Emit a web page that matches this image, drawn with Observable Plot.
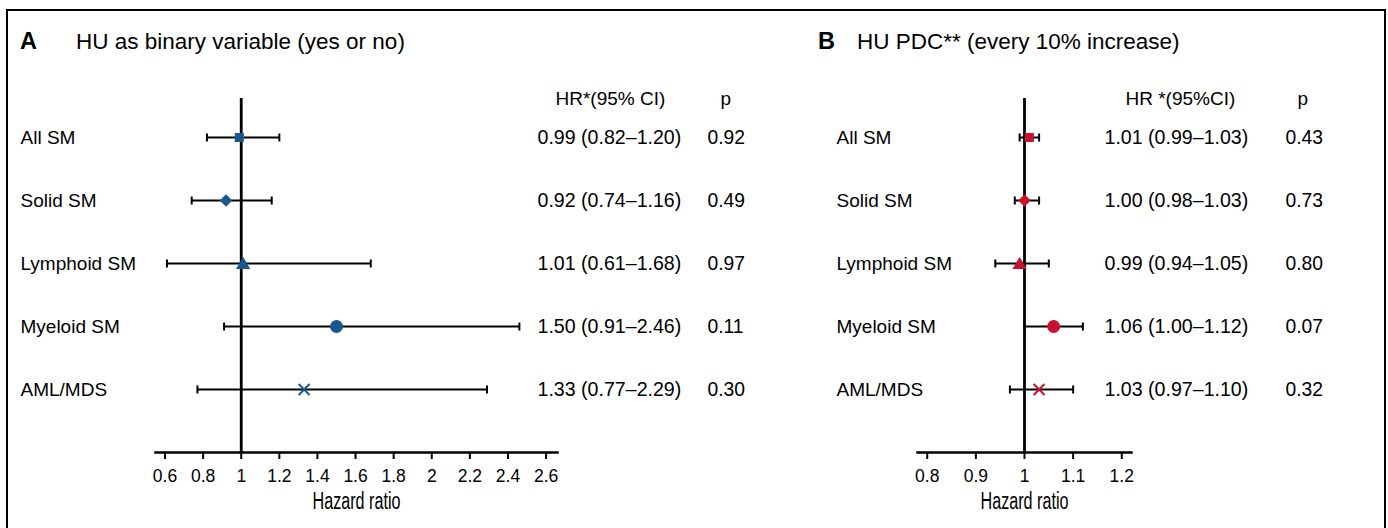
<!DOCTYPE html>
<html><head><meta charset="utf-8">
<script src="https://cdn.jsdelivr.net/npm/d3@7"></script>
<script src="https://cdn.jsdelivr.net/npm/@observablehq/plot@0.6"></script>
<style>
body{margin:0;background:#fff;}
#wrap{position:relative;width:1388px;height:528px;overflow:hidden;background:#fff;font-family:"Liberation Sans",Arial,Helvetica,sans-serif;color:#000;}
#border{position:absolute;left:5.5px;top:9px;width:1380px;height:600px;box-sizing:border-box;border:2px solid #000;border-bottom:none;pointer-events:none;}
.panel{position:absolute;top:0;}
.letter{position:absolute;font-weight:bold;font-size:23.5px;line-height:1;white-space:nowrap;}
.title{position:absolute;font-size:22.5px;line-height:1;white-space:nowrap;}
</style></head><body>
<div id="wrap">
  <div id="panelA" class="panel" style="left:0px"></div>
  <div id="panelB" class="panel" style="left:800px"></div>
  <div class="letter" style="left:20px;top:30px">A</div>
  <div class="title" style="left:76px;top:30.5px">HU as binary variable (yes or no)</div>
  <div class="letter" style="left:818px;top:30px">B</div>
  <div class="title" style="left:857px;top:30.5px">HU PDC** (every 10% increase)</div>
  <div id="border"></div>
</div>
<script>
// ---- data ----
const categories = ["All SM", "Solid SM", "Lymphoid SM", "Myeloid SM", "AML/MDS"];

const hrA = [0.99, 0.92, 1.01, 1.50, 1.33];
const loA = [0.82, 0.74, 0.61, 0.91, 0.77];
const hiA = [1.20, 1.16, 1.68, 2.46, 2.29];
const pA  = ["0.92", "0.49", "0.97", "0.11", "0.30"];
const ticksA = [0.6, 0.8, 1, 1.2, 1.4, 1.6, 1.8, 2, 2.2, 2.4, 2.6];

const hrB = [1.01, 1.00, 0.99, 1.06, 1.03];
const loB = [0.99, 0.98, 0.94, 1.00, 0.97];
const hiB = [1.03, 1.03, 1.05, 1.12, 1.10];
const pB  = ["0.43", "0.73", "0.80", "0.07", "0.32"];
const ticksB = [0.8, 0.9, 1, 1.1, 1.2];

const headerA = "HR*(95% CI)";
const headerB = "HR *(95%CI)";
const pHeader = "p";
const axisTitle = "Hazard ratio";

// ---- drawing ----
const capSymbol = {
  draw(ctx, size) {
    const h = Math.sqrt(size / Math.PI);
    ctx.moveTo(0, -h);
    ctx.lineTo(0, h);
  }
};

const markerStyle = {
  "All SM":      {symbol: "square",   r: 5.1, filled: true,  dy: 0},
  "Solid SM":    {symbol: "diamond2", r: 5.6, filled: true,  dy: 0},
  "Lymphoid SM": {symbol: "triangle", r: 5.3, filled: true,  dy: 1.5},
  "Myeloid SM":  {symbol: "circle",   r: 6.5, filled: true,  dy: 0},
  "AML/MDS":     {symbol: "times",    r: 5.0, filled: false, dy: 0}
};

function forest(opt) {
  const rows = categories.map((cat, i) => ({
    cat,
    hr: opt.hr[i],
    lo: opt.lo[i],
    hi: opt.hi[i],
    p: opt.p[i],
    text: `${opt.hr[i].toFixed(2)} (${opt.lo[i].toFixed(2)}–${opt.hi[i].toFixed(2)})`
  }));

  const markerMarks = categories.map(cat => {
    const s = markerStyle[cat];
    return Plot.dot(rows, {
      filter: d => d.cat === cat,
      x: "hr", y: "cat",
      symbol: s.symbol, r: s.r, dy: s.dy,
      fill: s.filled ? opt.color : "none",
      stroke: s.filled ? "none" : opt.color,
      strokeWidth: 2
    });
  });

  const svg = Plot.plot({
    width: opt.width,
    height: 528,
    marginLeft: opt.marginLeft,
    marginRight: opt.marginRight,
    marginTop: 98,
    marginBottom: 76,
    style: {background: "transparent", color: "#000", fontFamily: "'Liberation Sans', Arial, Helvetica, sans-serif", overflow: "visible"},
    x: {domain: opt.domain, axis: null},
    y: {domain: categories, range: [136, 389], padding: 0, axis: null},
    marks: [
      Plot.ruleX([1], {stroke: "#000", strokeWidth: 2.8}),
      Plot.ruleY(rows, {y: "cat", x1: "lo", x2: "hi", stroke: "#000", strokeWidth: 2}),
      Plot.dot(rows, {x: "lo", y: "cat", symbol: capSymbol, r: 4, fill: "none", stroke: "#000", strokeWidth: 2}),
      Plot.dot(rows, {x: "hi", y: "cat", symbol: capSymbol, r: 4, fill: "none", stroke: "#000", strokeWidth: 2}),
      ...markerMarks,
      Plot.text(rows, {y: "cat", text: "cat", frameAnchor: "left", textAnchor: "start", dx: opt.labelDx, fontSize: 19}),
      Plot.text(rows, {y: "cat", text: "text", frameAnchor: "right", textAnchor: "start", dx: opt.valueDx, fontSize: 19.6}),
      Plot.text(rows, {y: "cat", text: "p", frameAnchor: "right", textAnchor: "start", dx: opt.pDx, fontSize: 19.3}),
      Plot.text([opt.header], {frameAnchor: "top-right", textAnchor: "start", dx: opt.headDx, dy: -7, fontSize: 19}),
      Plot.text([pHeader], {frameAnchor: "top-right", textAnchor: "start", dx: opt.pHeadDx, dy: -7, fontSize: 19}),
      Plot.axisX({ticks: opt.ticks, tickFormat: d => String(d), tickSize: 7, tickPadding: 10, fontSize: 17.5, strokeWidth: 2, label: null}),
      Plot.frame({anchor: "bottom", stroke: "#000", strokeWidth: 2.5}),
      Plot.text([axisTitle], {frameAnchor: "bottom", dy: 56, fontSize: 23})
    ]
  });
  // condensed look for the axis title
  d3.select(svg).selectAll("text")
    .filter(function () { return this.textContent === axisTitle; })
    .attr("font-size", 23)
    .attr("textLength", 88)
    .attr("lengthAdjust", "spacingAndGlyphs");
  return svg;
}

document.getElementById("panelA").append(forest({
  hr: hrA, lo: loA, hi: hiA, p: pA, ticks: ticksA,
  domain: [0.55, 2.66], width: 800, marginLeft: 155, marginRight: 243,
  color: "#19578f", header: headerA,
  labelDx: -135, valueDx: -20, pDx: 150, headDx: -2, pHeadDx: 163
}));

document.getElementById("panelB").append(forest({
  hr: hrB, lo: loB, hi: hiB, p: pB, ticks: ticksB,
  domain: [0.78, 1.22], width: 588, marginLeft: 117, marginRight: 257,
  color: "#c4122f", header: headerB,
  labelDx: -81, valueDx: -27, pDx: 154, headDx: -6, pHeadDx: 166
}));
</script>
</body></html>
